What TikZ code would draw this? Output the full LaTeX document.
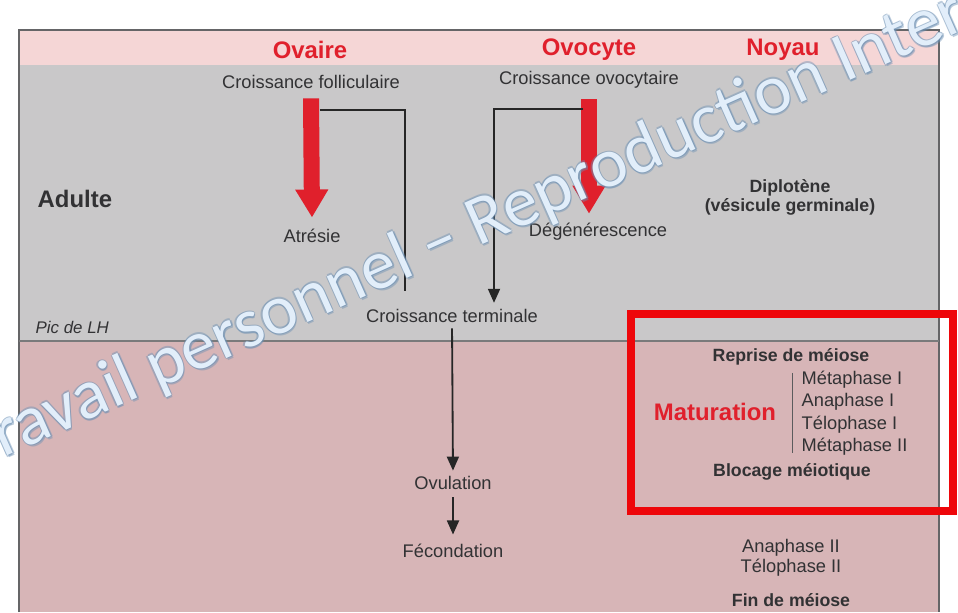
\documentclass[tikz,border=0pt]{standalone}
\usepackage{fontspec}
\setmainfont{Liberation Sans}
\newfontfamily\wmfont{Carlito}
\usetikzlibrary{arrows.meta, positioning, calc}
\definecolor{headPink}{RGB}{245,214,214}
\definecolor{adultGray}{RGB}{201,200,201}
\definecolor{matMauve}{RGB}{215,181,183}
\definecolor{titleRed}{RGB}{224,32,44}
\definecolor{frameRed}{RGB}{238,6,10}
\definecolor{inkGray}{RGB}{50,50,52}
\definecolor{wmBlue}{RGB}{226,238,250}
\definecolor{wmShade}{RGB}{110,145,180}

\begin{document}
\begin{tikzpicture}[x=0.025cm, y=0.025cm,
    head/.style={font=\fontsize{17}{19}\selectfont\bfseries, text=titleRed, inner sep=1pt},
    lbl/.style={font=\fontsize{13}{15.5}\selectfont, text=inkGray, inner sep=1pt},
    lblb/.style={font=\fontsize{12.6}{13.6}\selectfont\bfseries, text=inkGray, inner sep=1pt},
    bigred/.style={line width=0.4cm, titleRed, -{Triangle[width=0.78cm, length=0.7cm]}},
    link/.style={line width=1.3pt, black!85},
    linkarr/.style={link, -{Triangle[width=0.3cm, length=0.35cm]}},
    wm/.style={font=\wmfont\fontsize{50}{52}\selectfont, anchor=base west, rotate=24, inner sep=0pt},
    wmedge/.style={wm, text=wmShade, opacity=0.45}
  ]
    \useasboundingbox (0,0) rectangle (958,-612);
    \fill[white] (0,0) rectangle (958,-612);

    % bands of the table
    \fill[headPink] (19,-30) rectangle (939,-65);
    \fill[adultGray] (19,-65) rectangle (939,-341);
    \fill[matMauve] (19,-341) rectangle (939,-612);
    \draw[inkGray!75, line width=1.4pt] (19,-612) -- (19,-30) -- (939,-30) -- (939,-612);
    \draw[inkGray!65, line width=1.2pt] (19,-341) -- (939,-341);

    % column heads
    \node[head] (ovaire) at (310,-50) {Ovaire};
    \node[head] (ovocyte) at (589,-50) {Ovocyte};
    \node[head] (noyau) at (783,-50) {Noyau};

    % adult stage
    \node[lbl] (cf) at (311,-82) {Croissance folliculaire};
    \node[lbl] (co) at (589,-80) {Croissance ovocytaire};
    \node[lbl] (atr) at (312,-236) {Atrésie};
    \node[lbl] (deg) at (598,-232) {Dégénérescence};
    \node[lblb, font=\fontsize{17}{19}\selectfont\bfseries, anchor=west] (adulte) at (36,-199) {Adulte};
    \node[lblb, align=center] (diplo) at (790,-197) {Diplotène\\(vésicule germinale)};
    \node[lbl, font=\fontsize{12}{14}\selectfont\itshape, anchor=west] (lh) at (34,-327) {Pic de LH};
    \node[lbl] (ct) at (452,-316) {Croissance terminale};

    % after the LH peak
    \node[lbl] (ovu) at (453,-483) {Ovulation};
    \node[lbl] (fec) at (453,-551) {Fécondation};
    \node[lblb] (reprise) at (791,-357) {Reprise de méiose};
    \node[head] (matur) at (715,-412) {Maturation};
    \node[lbl, font=\fontsize{13}{16}\selectfont, anchor=west, align=left] (phases) at (800,-413)
      {Métaphase I\\Anaphase I\\Télophase I\\Métaphase II};
    \node[lblb] (blocage) at (792,-472) {Blocage méiotique};
    \node[lbl, font=\fontsize{13}{14.2}\selectfont, align=center] (fin2) at (791,-558) {Anaphase II\\Télophase II};
    \node[lblb] (finm) at (791,-600) {Fin de méiose};

    \draw[inkGray!80, line width=0.7pt] ([xshift=-0.2cm, yshift=-0.1cm]phases.north west)
      -- ([xshift=-0.2cm, yshift=0.1cm]phases.south west);

    % arrows
    \draw[bigred] ([yshift=-0.2cm]cf.south) -- ([yshift=0.25cm]atr.north);
    \draw[bigred] ([yshift=-0.22cm]co.south) -- ($(co.south |- deg.north)+(0,8)$);
    \draw[link] ([xshift=0.22cm, yshift=-0.5cm]cf.south) -| ([xshift=-1.18cm, yshift=0.42cm]ct.north);
    \draw[linkarr] ([xshift=-0.15cm, yshift=-0.47cm]co.south) -| ([xshift=1.05cm, yshift=0.12cm]ct.north);
    \draw[linkarr, shorten <=0.1cm, shorten >=0.1cm] (ct.south) -- (ovu.north);
    \draw[linkarr, shorten <=0.15cm, shorten >=0.2cm] (ovu.south) -- (fec.north);

    % watermark
    \foreach \dx/\dy in {-1.5/0, 1.5/0, 0/-1.5, 0/1.5, 1.5/-2}
      \node[wmedge] at (-24+\dx,-470+\dy) {Travail personnel – Reproduction Interdite};
    \node[wm, text=wmBlue] (wmark) at (-24,-470) {Travail personnel – Reproduction Interdite};

    % highlight
    \draw[frameRed, line width=0.2cm] (631,-314) rectangle (953,-511);
  \end{tikzpicture}
\end{document}
